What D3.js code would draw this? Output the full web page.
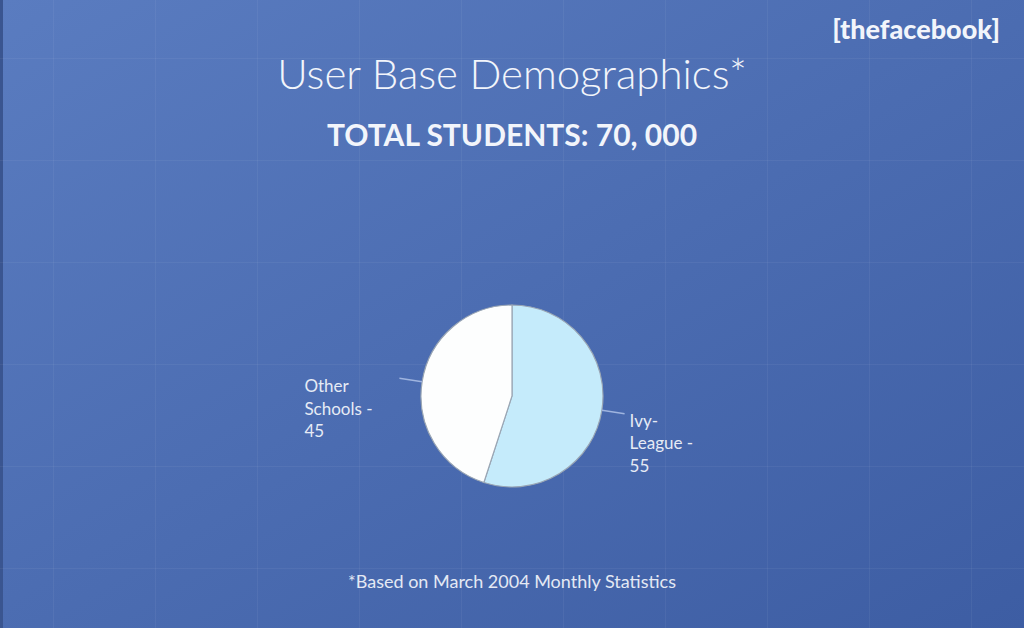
<!DOCTYPE html>
<html><head><meta charset="utf-8">
<script src="https://cdn.jsdelivr.net/npm/d3@7/dist/d3.min.js"></script>
<style>html,body{margin:0;padding:0;overflow:hidden;background:#4c6cb2}</style>
</head><body>
<svg id="chart" width="1024" height="628"></svg>
<script>
const categories = ["Ivy-League", "Other Schools"];
const values = [55, 45];
const labelLines = [["Ivy-", "League -", "55"], ["Other", "Schools -", "45"]];
const sliceColors = ["#c5ebfb", "#fdfefe"];
const title = "User Base Demographics*";
const subtitle = "TOTAL STUDENTS: 70, 000";
const logo = "[thefacebook]";
const footnote = "*Based on March 2004 Monthly Statistics";

const W = 1024, H = 628;
const svg = d3.select("#chart");
const defs = svg.append("defs");
const grad = defs.append("linearGradient").attr("id","bg").attr("x1","0").attr("y1","0").attr("x2","1").attr("y2","1");
grad.append("stop").attr("offset","0").attr("stop-color","#5a7cc0");
grad.append("stop").attr("offset","1").attr("stop-color","#3d5da3");
svg.append("rect").attr("width",W).attr("height",H).attr("fill","url(#bg)");
svg.append("rect").attr("width",3).attr("height",H).attr("fill","#3a5590");

// faint grid
const grid = svg.append("g").attr("stroke","#ffffff").attr("stroke-opacity",0.05).attr("stroke-width",1);
d3.range(53, W, 102).forEach(x => grid.append("line").attr("x1",x+0.5).attr("x2",x+0.5).attr("y1",0).attr("y2",H));
d3.range(58, H, 102).forEach(y => grid.append("line").attr("y1",y+0.5).attr("y2",y+0.5).attr("x1",0).attr("x2",W));

const textColor = "#f2f5fb";
svg.append("text").attr("x",512).attr("y",89).attr("text-anchor","middle")
  .attr("font-family","Lato").attr("font-weight",300).attr("font-size",42).attr("fill",textColor).text(title);
svg.append("text").attr("x",512).attr("y",146).attr("text-anchor","middle")
  .attr("font-family","Lato").attr("font-weight",700).attr("font-size",30).attr("fill",textColor).text(subtitle);
svg.append("text").attr("x",1000).attr("y",39).attr("text-anchor","end")
  .attr("font-family","Lato").attr("font-weight",900).attr("font-size",27).attr("fill",textColor).text(logo);
svg.append("text").attr("x",512).attr("y",588).attr("text-anchor","middle")
  .attr("font-family","Lato").attr("font-weight",400).attr("font-size",18).attr("fill","#e4e9f4").text(footnote);

// pie
const cx = 512, cy = 396, r = 91;
const pie = d3.pie().sort(null).value(d => d)(values);
const arc = d3.arc().innerRadius(0).outerRadius(r);
const g = svg.append("g").attr("transform",`translate(${cx},${cy})`);
g.selectAll("path").data(pie).join("path")
  .attr("d", arc).attr("fill",(d,i)=>sliceColors[i])
  .attr("stroke","#9aa6b4").attr("stroke-width",1.2);

const inner = d3.arc().innerRadius(r).outerRadius(r);
const outer = d3.arc().innerRadius(r+23).outerRadius(r+23);
g.selectAll("line.leader").data(pie).join("line").attr("class","leader")
  .attr("x1",d=>inner.centroid(d)[0]).attr("y1",d=>inner.centroid(d)[1])
  .attr("x2",d=>outer.centroid(d)[0]).attr("y2",d=>outer.centroid(d)[1])
  .attr("stroke","#9fb4df").attr("stroke-width",1.5);

const labels = g.selectAll("text.lab").data(pie).join("text").attr("class","lab")
  .attr("font-family","Lato").attr("font-size",17).attr("fill","#e6ebf5")
  .attr("transform",(d,i)=>{
    const p = outer.centroid(d);
    const right = (d.startAngle+d.endAngle)/2 < Math.PI;
    return right ? `translate(${p[0]+5},${p[1]+13})` : `translate(${p[0]-95},${p[1]+14})`;
  });
labels.each(function(d,i){
  const t = d3.select(this);
  labelLines[i].forEach((s,j)=>t.append("tspan").attr("x",0).attr("dy", j===0?0:22.5).text(s));
});
</script>
</body></html>
